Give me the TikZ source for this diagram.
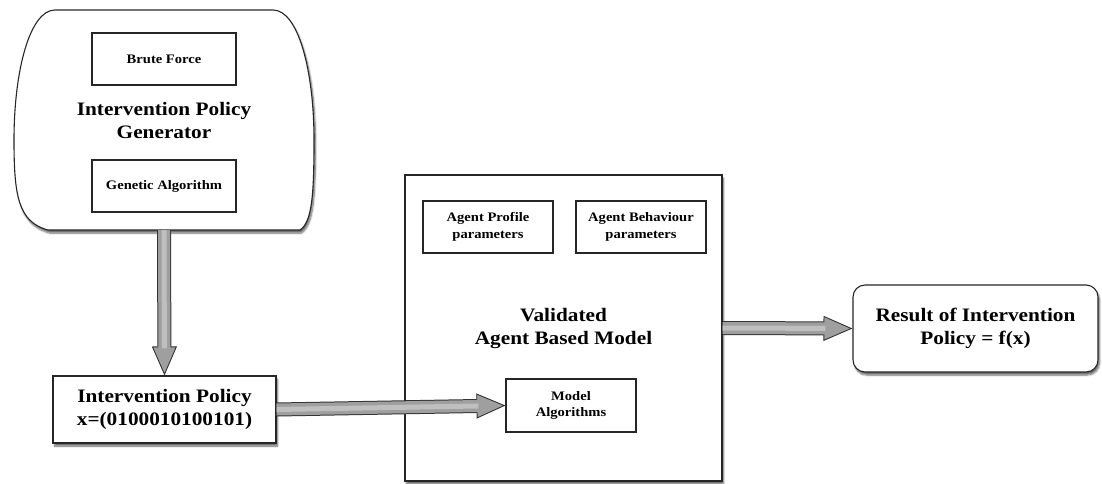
\documentclass[tikz,border=0pt]{standalone}
\usepackage{fontspec}
\setmainfont{Liberation Serif}[FakeStretch=1.12]
\usetikzlibrary{arrows.meta,shadows.blur}
\begin{document}
\begin{tikzpicture}[
	x=1pt, y=-1pt,
	big/.style = {font=\bfseries\fontsize{19}{23}\selectfont, align=center},
	small/.style = {font=\bfseries\fontsize{13}{16.5}\selectfont, align=center},
	box/.style = {draw=black!85, line width=1.1pt, fill=white, inner sep=0pt},
	shade/.style = {blur shadow={shadow xshift=1.5pt, shadow yshift=-3pt, shadow blur steps=6, shadow opacity=60}},
	fatarrow/.style = {draw=black!80, line width=14pt,
		-{Triangle[length=29pt, width=25pt, line width=0.9pt, fill=gray!75]},
		postaction={draw=gray!75, line width=12pt, shorten >=27pt, arrows=-},
		postaction={draw=gray!50, line width=5pt, shorten >=27pt, arrows=-}},
	]
	\useasboundingbox (0,0) rectangle (1102,483);
	% generator outline
	\draw[box, shade] (55,10) -- (273,10)
		.. controls (298,10) and (314,70) .. (314,140)
		.. controls (314,195) and (312,222) .. (300,230) -- (48,230)
		.. controls (18,222) and (14,195) .. (14,140)
		.. controls (14,70) and (30,10) .. (55,10) -- cycle;
	\node[big, minimum width=300pt, minimum height=220pt, inner sep=0pt] (gen) at (164,120) {Intervention Policy\\Generator};
	\node[box, small, minimum width=144pt, minimum height=52pt] (brute) at (164,59) {Brute Force};
	\node[box, small, minimum width=144pt, minimum height=52pt] (genetic) at (164,186) {Genetic Algorithm};

	\node[box, big, shade, minimum width=223pt, minimum height=67pt] (policy) at (164.5,409.5) {Intervention Policy\\x=(0100010100101)};

	\node[box, big, shade, minimum width=317pt, minimum height=306pt] (abm) at (563.5,328) {Validated\\Agent Based Model};
	\node[box, small, minimum width=130pt, minimum height=52pt] (profile) at (488,227) {Agent Profile\\parameters};
	\node[box, small, minimum width=130pt, minimum height=52pt] (behaviour) at (641,227) {Agent Behaviour\\parameters};
	\node[box, small, minimum width=130pt, minimum height=53pt] (algo) at (571,405.5) {Model\\Algorithms};

	\node[box, big, shade, rounded corners=12pt, minimum width=245pt, minimum height=87pt] (result) at (975.5,328.5) {Result of Intervention\\Policy = f(x)};

	\draw[fatarrow] (gen.south) -- (policy.north);
	\draw[fatarrow] (policy.east) -- (algo.west);
	\draw[fatarrow] (abm.east) -- (result.west);
\end{tikzpicture}
\end{document}
